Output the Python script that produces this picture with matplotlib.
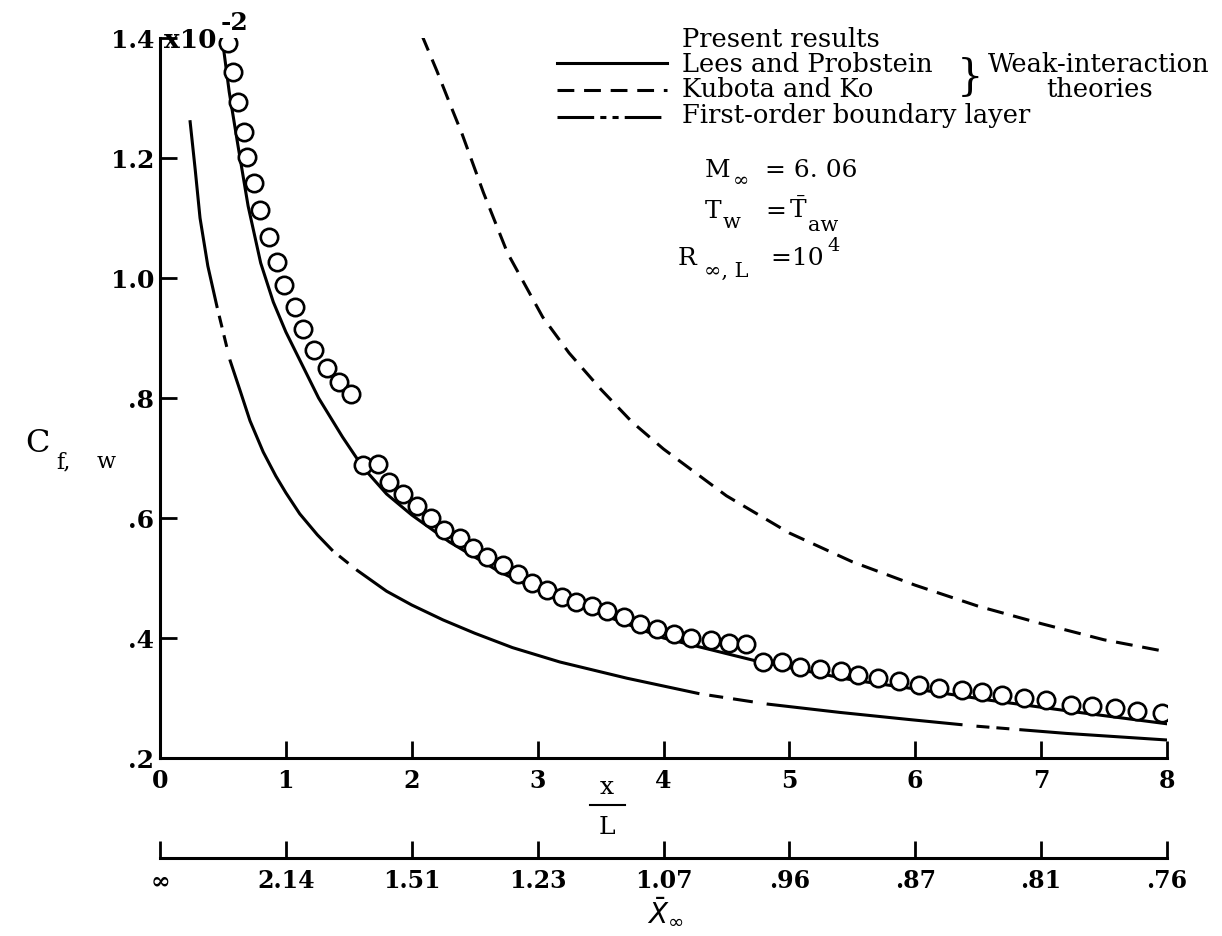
import matplotlib.pyplot as plt
from matplotlib.lines import Line2D

plt.rcParams["font.family"] = ["DejaVu Serif", "DejaVu Sans"]
plt.rcParams["mathtext.fontset"] = "dejavuserif"

# present results (circles), x/L and Cf,w (x10^-2)
present_x = [0.54, 0.58, 0.62, 0.667, 0.691, 0.747, 0.794, 0.866, 0.929, 0.985,
             1.072, 1.136, 1.223, 1.326, 1.422, 1.517,
             1.612, 1.732, 1.819, 1.930, 2.041, 2.153, 2.256, 2.383, 2.486, 2.597,
             2.724, 2.844, 2.955, 3.074, 3.193, 3.304, 3.431, 3.550, 3.685, 3.813,
             3.948, 4.083, 4.218, 4.376, 4.519, 4.654,
             4.790, 4.940, 5.083, 5.242, 5.409, 5.544, 5.703, 5.870, 6.029, 6.187,
             6.370, 6.529, 6.688, 6.862, 7.037, 7.236, 7.403, 7.585, 7.760, 7.959]
present_y = [1.392, 1.343, 1.293, 1.243, 1.202, 1.158, 1.113, 1.068, 1.027, 0.988,
             0.952, 0.915, 0.880, 0.850, 0.827, 0.807,
             0.688, 0.690, 0.660, 0.640, 0.620, 0.600, 0.580, 0.567, 0.550, 0.535,
             0.522, 0.507, 0.492, 0.480, 0.468, 0.460, 0.453, 0.445, 0.435, 0.423,
             0.415, 0.407, 0.400, 0.397, 0.392, 0.390,
             0.360, 0.360, 0.352, 0.348, 0.345, 0.338, 0.333, 0.328, 0.322, 0.317,
             0.313, 0.310, 0.305, 0.300, 0.297, 0.288, 0.287, 0.283, 0.278, 0.275]

# Lees and Probstein
lees_x = [0.50, 0.55, 0.62, 0.70, 0.80, 0.90, 1.00, 1.13, 1.26, 1.45, 1.61, 1.80,
          2.00, 2.30, 2.70, 3.00, 3.50, 4.00, 4.77, 5.50, 6.00, 6.60, 7.30, 8.00]
lees_y = [1.39, 1.31, 1.22, 1.12, 1.025, 0.96, 0.91, 0.855, 0.80, 0.735, 0.685, 0.64,
          0.605, 0.56, 0.51, 0.48, 0.44, 0.40, 0.36, 0.33, 0.315, 0.296, 0.276, 0.257]

# Kubota and Ko
kubota_x = [2.08, 2.15, 2.20, 2.30, 2.40, 2.57, 2.76, 3.04, 3.25, 3.50, 3.75, 4.00,
            4.50, 5.00, 5.50, 6.00, 6.50, 7.00, 7.50, 8.00]
kubota_y = [1.405, 1.37, 1.345, 1.292, 1.24, 1.142, 1.042, 0.935, 0.875, 0.815, 0.76,
            0.715, 0.637, 0.575, 0.527, 0.488, 0.453, 0.424, 0.397, 0.377]

# first-order boundary layer
first_x = [0.238, 0.28, 0.318, 0.38, 0.453, 0.556, 0.64, 0.715, 0.82, 0.92, 1.00,
           1.11, 1.25, 1.374, 1.565, 1.80, 2.00, 2.25, 2.50, 2.80, 3.177, 3.709,
           4.289, 4.821, 5.40, 5.957, 6.489, 7.20, 8.00]
first_y = [1.263, 1.18, 1.10, 1.02, 0.952, 0.863, 0.81, 0.762, 0.71, 0.67, 0.642,
           0.607, 0.572, 0.545, 0.513, 0.478, 0.455, 0.43, 0.408, 0.384, 0.36, 0.333,
           0.307, 0.29, 0.276, 0.264, 0.253, 0.241, 0.230]

x_ticks = [0, 1, 2, 3, 4, 5, 6, 7, 8]
y_ticks = [0.2, 0.4, 0.6, 0.8, 1.0, 1.2, 1.4]
y_labels = [".2", ".4", ".6", ".8", "1.0", "1.2", "1.4"]
chi_labels = ["\u221e", "2.14", "1.51", "1.23", "1.07", ".96", ".87", ".81", ".76"]

W, H = 1222, 936
fig = plt.figure(figsize=(W / 100, H / 100), dpi=100)
left, right = 160 / W, 1167 / W
ax = fig.add_axes([left, 1 - 758 / H, right - left, (758 - 38) / H])


def fx(px):
    return px / W


def fy(py):
    return 1 - py / H


def label(px, py, s, size=18, **kw):
    # text placed on a baseline given in picture pixels
    kw.setdefault("ha", "left")
    return fig.text(fx(px), fy(py), s, fontsize=size, va="baseline", **kw)


lw = 2.2
px_unit = lw * 100 / 72  # one dash unit in pixels
dashed = (0, (5.5, 3.2))
# hand-drawn look of the first-order curve: long strokes broken by short ones
fo_pattern_px = [190, 8, 12, 8, 12, 13, 220, 8, 12, 10, 368, 10, 14, 10, 20, 14,
                 197, 14, 13, 7, 13, 10, 400, 10]
dashdot = (0, [v / px_unit for v in fo_pattern_px])

ax.plot(lees_x, lees_y, color="black", lw=lw, ls="-")
ax.plot(kubota_x, kubota_y, color="black", lw=lw, ls=dashed)
ax.plot(first_x, first_y, color="black", lw=lw, ls=dashdot)
ax.plot(present_x, present_y, ls="none", marker="o", ms=12.5, mfc="white",
        mec="black", mew=1.9, zorder=5)

ax.set_xlim(0, 8)
ax.set_ylim(0.2, 1.4)
ax.spines[["top", "right"]].set_visible(False)
for s in ["left", "bottom"]:
    ax.spines[s].set_linewidth(2.2)
ax.set_xticks(x_ticks)
ax.set_yticks(y_ticks, labels=y_labels)
ax.tick_params(axis="both", which="major", direction="in", length=12, width=2,
               top=False, right=False, labelsize=17)
ax.tick_params(axis="x", pad=8)
ax.tick_params(axis="y", pad=4, labelsize=18)
for t in ax.get_xticklabels() + ax.get_yticklabels():
    t.set_fontweight("bold")

# lower chi-bar scale
ax2 = fig.add_axes([left, fy(858), right - left, 0.0005])
ax2.set_xlim(0, 8)
ax2.set_yticks([])
ax2.patch.set_visible(False)
ax2.spines[["top", "right", "left"]].set_visible(False)
ax2.spines["bottom"].set_linewidth(2.2)
ax2.set_xticks(x_ticks, labels=chi_labels)
ax2.tick_params(axis="x", direction="in", length=12, width=2, labelsize=17, pad=8)
for t in ax2.get_xticklabels():
    t.set_fontweight("bold")

# axis labels
label(164, 48, "x10", size=19, fontweight="bold")
label(221, 30, "-2", size=18, fontweight="bold")
label(25, 452, "C", size=23)
label(56, 468, "f,", size=16)
label(97, 468, "w", size=16)
fig.text(fx(607), fy(788), "x", fontsize=18, ha="center", va="center")
fig.add_artist(Line2D([fx(590), fx(625)], [fy(805), fy(805)], color="black", lw=1.5))
fig.text(fx(607), fy(828), "L", fontsize=18, ha="center", va="center")
fig.text(fx(665), fy(912), r"$\bar{X}_{\infty}$", fontsize=20, ha="center",
         va="center", math_fontfamily="dejavusans")

# key
key_rows = [(47, 63, "Present results", None),
            (72, 63, "Lees and Probstein", "-"),
            (97, 90, "Kubota and Ko", (0, (5.5, 3.2))),
            (123, 117, "First-order boundary layer", (0, (12, 2, 2, 2, 2, 2)))]
for base, py, text, style in key_rows:
    if style is not None:
        fig.add_artist(Line2D([fx(557), fx(667)], [fy(py), fy(py)], color="black",
                              lw=lw, ls=style))
    label(682, base, text, size=18.5)

fig.text(fx(970), fy(78), "}", fontsize=30, ha="center", va="center",
         fontweight="light")
label(988, 72, "Weak-interaction", size=18.5)
label(1100, 97, "theories", size=18.5, ha="center")

# flow conditions
label(705, 177, "M")
label(733, 186, "\u221e", size=14)
label(765, 177, "= 6. 06")
label(705, 218, "T")
label(723, 228, "w", size=15)
label(765, 218, "=")
label(789, 218, r"$\bar{\mathrm{T}}$")
label(808, 231, "aw", size=15)
label(678, 265, "R")
label(704, 277, "\u221e, L", size=15)
label(770, 265, "=")
label(792, 265, "10")
label(827, 251, "4", size=14)

fig.savefig("out.png", dpi=100)
